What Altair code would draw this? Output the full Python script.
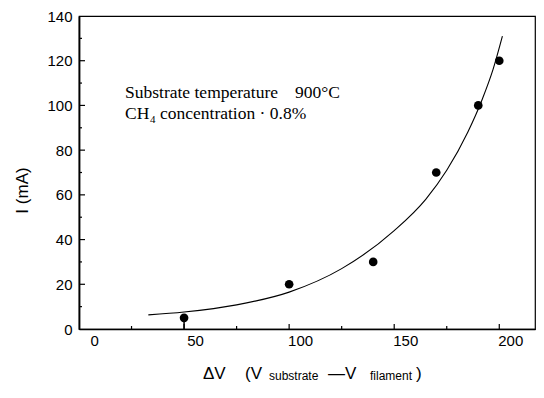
import altair as alt
import pandas as pd

# measured points
pt_x = [50, 100, 140, 170, 190, 200]
pt_y = [5, 20, 30, 70, 100, 120]

# fitted curve
curve_x = [33, 50, 75, 100, 125, 150, 165, 175, 185, 192, 197, 201.5]
curve_y = [6.3, 7.6, 10.8, 16.5, 27, 44, 58, 71, 88, 103, 116, 131]

# stem below first point
stem_x = [50]
stem_y0 = [0]
stem_y1 = [5]

x_labels = [0, 50, 100, 150, 200]
y_labels = [0, 20, 40, 60, 80, 100, 120, 140]
x_major = [50, 100, 150, 200]
x_minor = [25, 75, 125, 175]
y_major = [20, 40, 60, 80, 100, 120]
y_minor = [10, 30, 50, 70, 90, 110, 130]

W, H = 456, 313
SANS = "Liberation Sans"
SERIF = "Liberation Serif"

xs = alt.Scale(domain=[0, 217], nice=False, zero=False)
ys = alt.Scale(domain=[0, 140], nice=False, zero=False)

xaxis = alt.Axis(values=x_labels, tickSize=0, labelPadding=4, labelOffset=11,
                 labelFont=SANS, labelFontSize=15, labelColor="black",
                 domainColor="black", domainWidth=1.5, grid=False, title=None)
yaxis = alt.Axis(values=y_labels, tickSize=0, labelPadding=7,
                 labelFont=SANS, labelFontSize=15, labelColor="black",
                 domainColor="black", domainWidth=1.8, grid=False,
                 title="I  (mA)", titleFont=SANS, titleFontSize=17,
                 titleFontWeight="normal", titleColor="black",
                 titleX=-57, titleY=174, titleAngle=-90,
                 titleAlign="center", titleBaseline="middle")

pts = pd.DataFrame({"x": pt_x, "y": pt_y})
cur = pd.DataFrame({"x": curve_x, "y": curve_y})
stem = pd.DataFrame({"x": stem_x, "y0": stem_y0, "y1": stem_y1})

base_pts = alt.Chart(pts).mark_circle(size=75, color="black", opacity=1).encode(
    x=alt.X("x:Q", scale=xs, axis=xaxis),
    y=alt.Y("y:Q", scale=ys, axis=yaxis),
)
line = alt.Chart(cur).mark_line(color="black", strokeWidth=1.1, interpolate="monotone").encode(
    x=alt.X("x:Q", scale=xs), y=alt.Y("y:Q", scale=ys))
stem_l = alt.Chart(stem).mark_rule(color="black", strokeWidth=1.5).encode(
    x=alt.X("x:Q", scale=xs), y=alt.Y("y0:Q", scale=ys), y2="y1:Q")

def yticks(vals, length):
    return alt.Chart(pd.DataFrame({"v": vals})).mark_rule(color="black", strokeWidth=1.2).encode(
        y=alt.Y("v:Q", scale=ys), x=alt.value(0), x2=alt.value(length))

def xticks(vals, length):
    return alt.Chart(pd.DataFrame({"v": vals})).mark_rule(color="black", strokeWidth=1.2).encode(
        x=alt.X("v:Q", scale=xs), y=alt.value(H), y2=alt.value(H - length))

def txt(s, x, y, size, font):
    return alt.Chart(pd.DataFrame({"t": [s]})).mark_text(
        align="left", baseline="alphabetic", fontSize=size, font=font, color="black"
    ).encode(x=alt.value(x), y=alt.value(y), text="t:N")

ann = [
    txt("Substrate temperature", 46, 82, 17.5, SERIF),
    txt("900°C", 216, 82, 17.5, SERIF),
    txt("CH", 46, 103, 17.5, SERIF),
    txt("4", 71, 107, 11, SERIF),
    txt("concentration · 0.8%", 81, 103, 17.5, SERIF),
]
xt_y = 363
xtitle = [
    txt("ΔV", 124, xt_y, 17, SANS),
    txt("(V", 166, xt_y, 17, SANS),
    txt("substrate", 190, xt_y + 1, 12, SANS),
    txt("—V", 249, xt_y, 17, SANS),
    txt("filament", 291, xt_y + 1, 12, SANS),
    txt(")", 337, xt_y, 17, SANS),
]

chart = alt.layer(
    base_pts, line, stem_l,
    yticks(y_major, 6), yticks(y_minor, 3),
    xticks(x_major, 5), xticks(x_minor, 3),
    *ann, *xtitle,
).properties(
    width=W, height=H,
    autosize=alt.AutoSizeParams(type="none"),
    padding={"left": 71, "top": 8, "right": 1, "bottom": 54},
    background="white",
).configure_view(stroke="black", strokeWidth=1.2)

chart.save("out.html", embed_options={"renderer": "svg", "actions": False})
